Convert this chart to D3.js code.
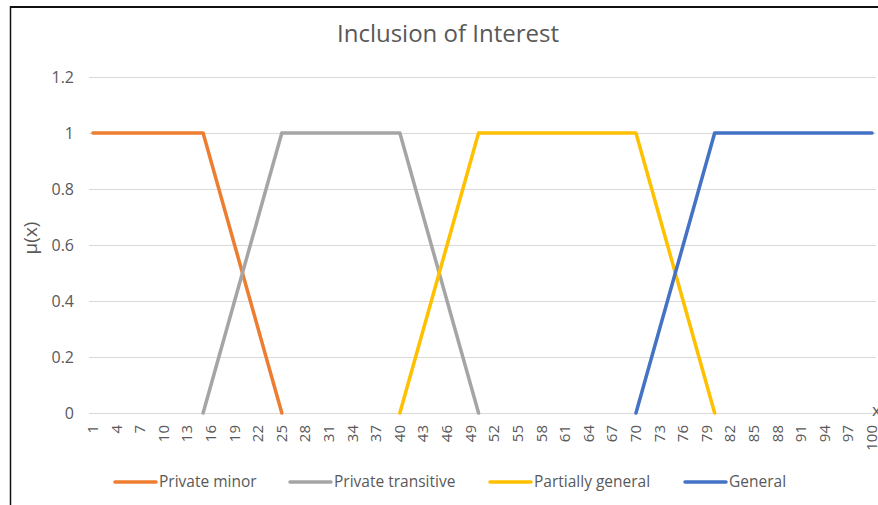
<!DOCTYPE html>
<html>
<head>
<meta charset="utf-8">
<script src="https://cdn.jsdelivr.net/npm/d3@7"></script>
<style>
  html, body { margin: 0; padding: 0; background: #fff; }
  svg { display: block; font-family: "Open Sans", "Noto Sans", sans-serif; }
</style>
</head>
<body>
<svg id="chart" width="878" height="505"></svg>
<script>
const title = "Inclusion of Interest";
const yTitle = "μ(x)";
const xTitle = "x";
const categories = d3.range(1, 101);
const xTickLabels = [1,4,7,10,13,16,19,22,25,28,31,34,37,40,43,46,49,52,55,58,61,64,67,70,73,76,79,82,85,88,91,94,97,100];
const yTicks = [0, 0.2, 0.4, 0.6, 0.8, 1, 1.2];
const seriesNames = ["Private minor", "Private transitive", "Partially general", "General"];
const seriesColors = ["#ED7D31", "#A5A5A5", "#FFC000", "#4472C4"];

const privateMinor = [
  1,1,1,1,1,1,1,1,1,1,
  1,1,1,1,1,0.9,0.8,0.7,0.6,0.5,
  0.4,0.3,0.2,0.1,0,null,null,null,null,null,
  null,null,null,null,null,null,null,null,null,null,
  null,null,null,null,null,null,null,null,null,null,
  null,null,null,null,null,null,null,null,null,null,
  null,null,null,null,null,null,null,null,null,null,
  null,null,null,null,null,null,null,null,null,null,
  null,null,null,null,null,null,null,null,null,null,
  null,null,null,null,null,null,null,null,null,null
];
const privateTransitive = [
  null,null,null,null,null,null,null,null,null,null,
  null,null,null,null,0,0.1,0.2,0.3,0.4,0.5,
  0.6,0.7,0.8,0.9,1,1,1,1,1,1,
  1,1,1,1,1,1,1,1,1,1,
  0.9,0.8,0.7,0.6,0.5,0.4,0.3,0.2,0.1,0,
  null,null,null,null,null,null,null,null,null,null,
  null,null,null,null,null,null,null,null,null,null,
  null,null,null,null,null,null,null,null,null,null,
  null,null,null,null,null,null,null,null,null,null,
  null,null,null,null,null,null,null,null,null,null
];
const partiallyGeneral = [
  null,null,null,null,null,null,null,null,null,null,
  null,null,null,null,null,null,null,null,null,null,
  null,null,null,null,null,null,null,null,null,null,
  null,null,null,null,null,null,null,null,null,0,
  0.1,0.2,0.3,0.4,0.5,0.6,0.7,0.8,0.9,1,
  1,1,1,1,1,1,1,1,1,1,
  1,1,1,1,1,1,1,1,1,1,
  0.9,0.8,0.7,0.6,0.5,0.4,0.3,0.2,0.1,0,
  null,null,null,null,null,null,null,null,null,null,
  null,null,null,null,null,null,null,null,null,null
];
const general = [
  null,null,null,null,null,null,null,null,null,null,
  null,null,null,null,null,null,null,null,null,null,
  null,null,null,null,null,null,null,null,null,null,
  null,null,null,null,null,null,null,null,null,null,
  null,null,null,null,null,null,null,null,null,null,
  null,null,null,null,null,null,null,null,null,null,
  null,null,null,null,null,null,null,null,null,0,
  0.1,0.2,0.3,0.4,0.5,0.6,0.7,0.8,0.9,1,
  1,1,1,1,1,1,1,1,1,1,
  1,1,1,1,1,1,1,1,1,1
];
const seriesValues = [privateMinor, privateTransitive, partiallyGeneral, general];

const svg = d3.select("#chart");
const textColor = "#595959";
const gridColor = "#D9D9D9";

// frame
svg.append("line").attr("x1", 10.5).attr("x2", 10.5).attr("y1", 6).attr("y2", 505)
  .attr("stroke", "#111").attr("stroke-width", 1.5);
svg.append("line").attr("x1", 10).attr("x2", 878).attr("y1", 7).attr("y2", 7)
  .attr("stroke", "#111").attr("stroke-width", 2);

const x = d3.scalePoint().domain(categories).range([89, 876]).padding(0.5);
const y = d3.scaleLinear().domain([0, 1.2]).range([413, 77]);

// gridlines
svg.append("g").selectAll("line").data(yTicks).join("line")
  .attr("x1", 89).attr("x2", 876)
  .attr("y1", d => Math.round(y(d)) + 0.5).attr("y2", d => Math.round(y(d)) + 0.5)
  .attr("stroke", gridColor).attr("stroke-width", 1);

// y axis labels
const yAxis = d3.axisLeft(y).tickValues(yTicks).tickSize(0).tickPadding(0)
  .tickFormat(d => d3.format("~g")(d));
const gy = svg.append("g").attr("transform", "translate(74,0)").call(yAxis);
gy.select(".domain").remove();
gy.selectAll("text").attr("fill", textColor).attr("font-size", 16)
  .attr("font-family", "'Open Sans', sans-serif");

// x axis
const xAxis = d3.axisBottom(x).tickValues(xTickLabels).tickSize(0).tickPadding(0);
const gx = svg.append("g").attr("transform", "translate(0,413)").call(xAxis);
gx.select(".domain").remove();
gx.selectAll("text")
  .attr("fill", textColor).attr("font-size", 15)
  .attr("font-family", "'Open Sans', sans-serif")
  .attr("transform", "rotate(-90)")
  .attr("text-anchor", "end")
  .attr("dy", "0.3em")
  .attr("x", -12).attr("y", 0);

svg.append("line").attr("x1", 89).attr("x2", 876).attr("y1", 413.5).attr("y2", 413.5)
  .attr("stroke", gridColor).attr("stroke-width", 1);

// series lines
const line = d3.line()
  .defined(d => d.v !== null)
  .x(d => x(d.c)).y(d => y(d.v));
seriesValues.forEach((vals, i) => {
  const pts = categories.map((c, j) => ({c: c, v: vals[j]}));
  svg.append("path").datum(pts)
    .attr("fill", "none")
    .attr("stroke", seriesColors[i])
    .attr("stroke-width", 3.5)
    .attr("stroke-linejoin", "round")
    .attr("stroke-linecap", "round")
    .attr("d", line);
});

// title
svg.append("text").attr("x", 448).attr("y", 42).attr("text-anchor", "middle")
  .attr("fill", textColor).attr("font-size", 24).text(title);

// y title
svg.append("text").attr("transform", "translate(37,238) rotate(-90)")
  .attr("text-anchor", "middle").attr("fill", textColor).attr("font-size", 19).text(yTitle);

// x title (clipped at the right edge, as in the reference)
svg.append("text").attr("x", 872).attr("y", 416)
  .attr("fill", textColor).attr("font-size", 17).text(xTitle);

// legend
const legendX = [115, 290, 490, 685];
const lg = svg.append("g").selectAll("g").data(seriesNames).join("g")
  .attr("transform", (d, i) => `translate(${legendX[i]},482)`);
lg.append("line").attr("x1", 0).attr("x2", 41).attr("y1", 0).attr("y2", 0)
  .attr("stroke", (d, i) => seriesColors[i]).attr("stroke-width", 3.5)
  .attr("stroke-linecap", "round");
lg.append("text").attr("x", 44).attr("y", 0).attr("dy", "0.35em")
  .attr("fill", textColor).attr("font-size", 15.5).text(d => d);
</script>
</body>
</html>
